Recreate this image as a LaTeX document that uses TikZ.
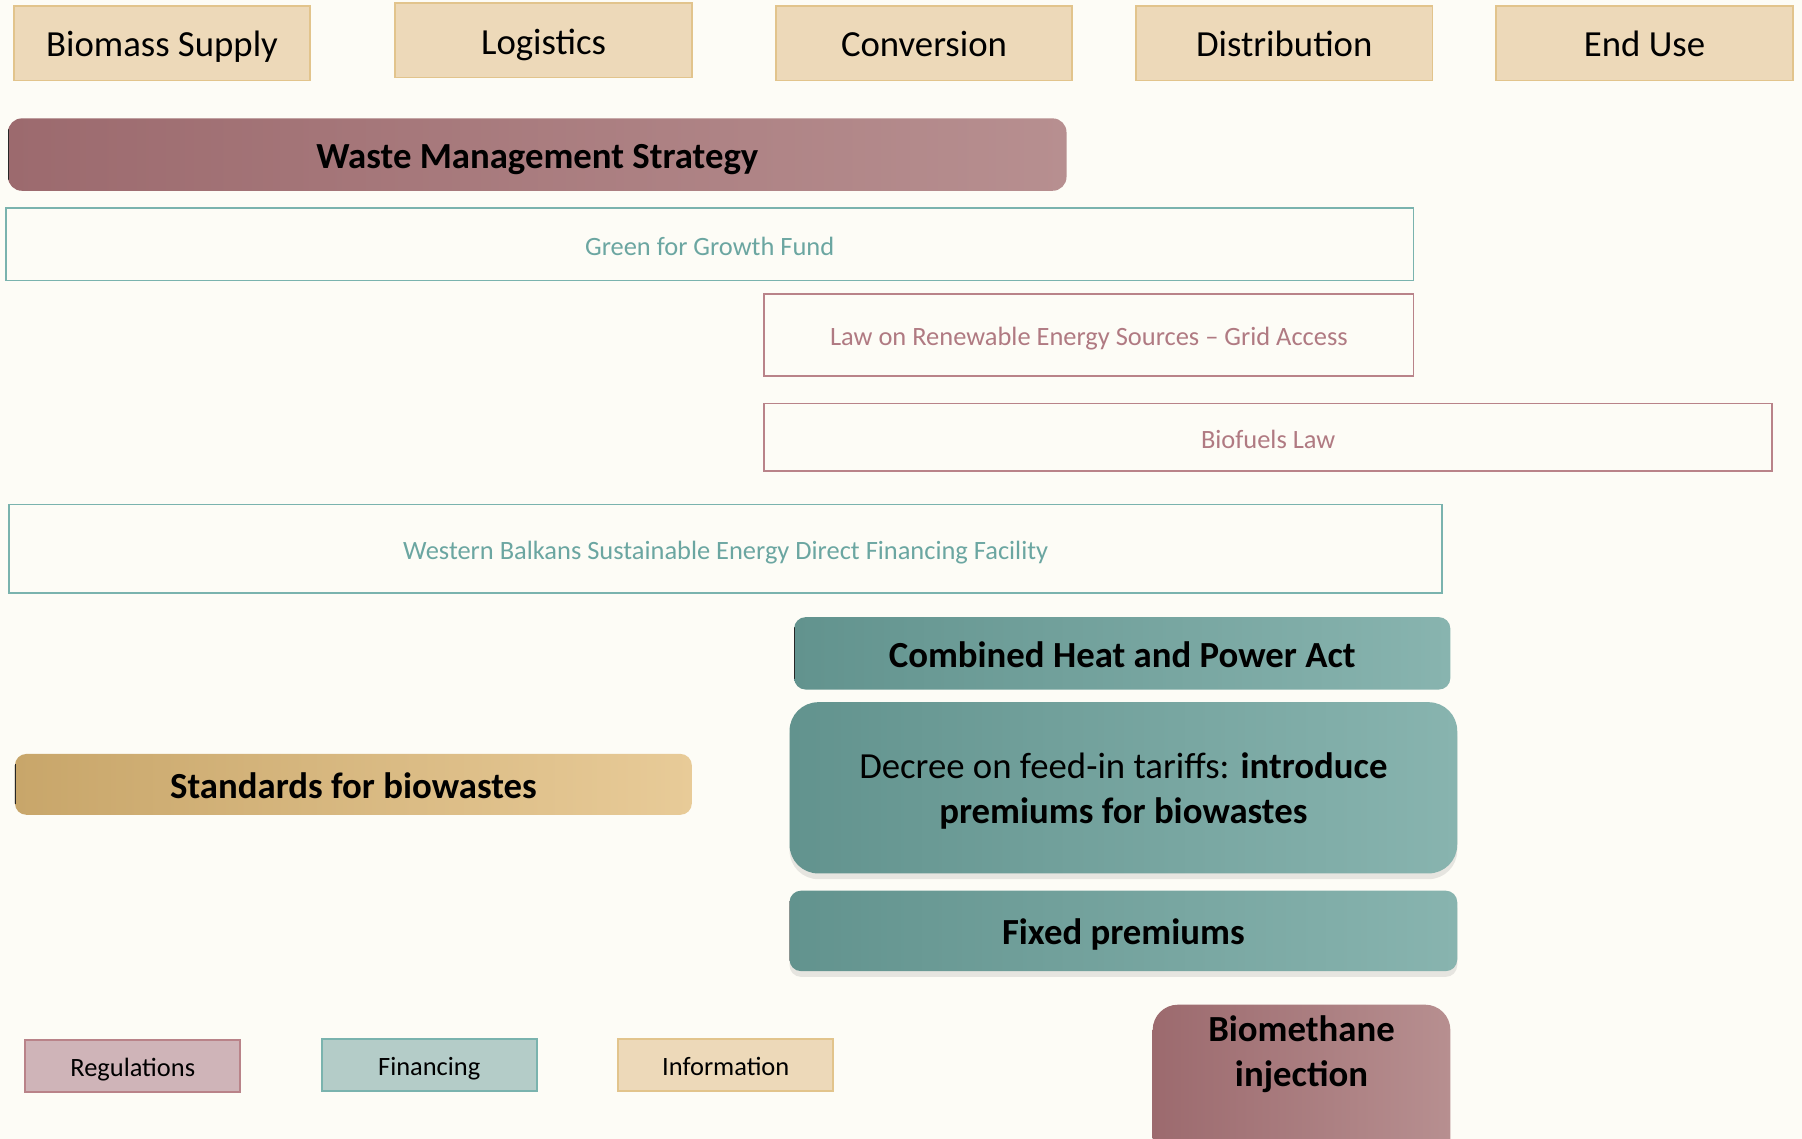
\documentclass[tikz,border=0pt]{standalone}
\usepackage{fontspec}
\usepackage{xcolor}
\usetikzlibrary{shadows}
\setmainfont{Carlito}
\definecolor{bgcream}{HTML}{FDFCF6}
\definecolor{infofill}{HTML}{EDD9B9}
\definecolor{infoline}{HTML}{E2C48C}
\definecolor{regline}{HTML}{B98389}
\definecolor{regtext}{HTML}{B07A82}
\definecolor{finline}{HTML}{7AB3AE}
\definecolor{fintext}{HTML}{6BA6A1}
\definecolor{regdark}{HTML}{9C6A6E}
\definecolor{reglight}{HTML}{B78F90}
\definecolor{findark}{HTML}{62938E}
\definecolor{finlight}{HTML}{88B4AF}
\definecolor{infodark}{HTML}{C8A66A}
\definecolor{infolight}{HTML}{E8CB98}
\definecolor{keyreg}{HTML}{CFB4B8}
\definecolor{keyfin}{HTML}{B4CCC8}

\begin{document}
\begin{tikzpicture}[x=1pt, y=-1pt,
    bigline/.style={text height=27pt, text depth=3pt},
    smallline/.style={text height=21pt, text depth=2pt},
    stage/.style={rectangle, draw=infoline, fill=infofill, line width=1.5pt, inner sep=0pt,
        minimum width=258pt, minimum height=65pt, font=\fontsize{32}{38}\selectfont, bigline},
    strip/.style={rectangle, fill=bgcream, line width=1.5pt, inner sep=0pt,
        font=\fontsize{23}{28}\selectfont, smallline},
    bar/.style={rectangle, rounded corners=10pt, inner sep=0pt,
        font=\bfseries\fontsize{32}{39}\selectfont, align=center},
    edge/.style={path picture={\draw[black!85, line width=1.5pt]
        ([yshift=-9pt]path picture bounding box.north west) --
        ([yshift=9pt]path picture bounding box.south west);}},
    regbar/.style={bar, left color=regdark, right color=reglight},
    finbar/.style={bar, left color=findark, right color=finlight},
    infobar/.style={bar, left color=infodark, right color=infolight},
    key/.style={rectangle, line width=1.5pt, inner sep=0pt, minimum width=187pt,
        minimum height=45pt, font=\fontsize{23}{28}\selectfont, smallline}]

    % Background
    \fill[bgcream] (0,0) rectangle (1568,991);
    \useasboundingbox (0,0) rectangle (1568,991);
    \clip (0,0) rectangle (1568,991);

    % Stage headers
    \foreach \x/\y/\name/\txt in {141/37.5/supply/Biomass Supply, 473/35/logist/Logistics,
        804/37.5/convers/Conversion, 1117.5/37.5/distrib/Distribution, 1431/37.5/enduse/End Use}
        \node[stage] (\name) at (\x,\y) {\txt};

    % Policy strips
    \node[regbar, edge, bigline, minimum width=921pt, minimum height=63pt, rounded corners=12pt] (waste)
        at (467.5,134.5) {Waste Management Strategy};
    \node[strip, draw=finline, text=fintext, minimum width=1225pt, minimum height=63pt] (green)
        at (617.5,212.5) {Green for Growth Fund};
    \node[strip, draw=regline, text=regtext, minimum width=565pt, minimum height=71pt] (resgrid)
        at (947.5,291.5) {Law on Renewable Energy Sources \textendash{} Grid Access};
    \node[strip, draw=regline, text=regtext, minimum width=877pt, minimum height=59pt] (biofuel)
        at (1103.5,380.5) {Biofuels Law};
    \node[strip, draw=finline, text=fintext, minimum width=1247pt, minimum height=77pt] (wbsedff)
        at (631.5,477.5) {Western Balkans Sustainable Energy Direct Financing Facility};

    % Financing bars
    \node[finbar, edge, bigline, minimum width=571pt, minimum height=63pt] (chp)
        at (976.5,568.5) {Combined Heat and Power Act};
    \node[finbar, minimum width=581pt, minimum height=149pt, rounded corners=25pt,
        font=\fontsize{32}{39}\selectfont, text depth=0pt,
        drop shadow={shadow xshift=0pt, shadow yshift=-5pt, opacity=0.18}] (decree)
        at (977.5,685.5) {Decree on feed-in tariffs: \textbf{introduce}\\\textbf{premiums for biowastes}};
    \node[finbar, edge, bigline, minimum width=581pt, minimum height=70pt,
        drop shadow={shadow xshift=0pt, shadow yshift=-5pt, opacity=0.18}] (fixed)
        at (977.5,810) {Fixed premiums};

    % Information and regulation bars
    \node[infobar, edge, bigline, minimum width=589pt, minimum height=53pt] (standard)
        at (307.5,682.5) {Standards for biowastes};
    \node[regbar, minimum width=259pt, rounded corners=22pt, anchor=north, inner ysep=10pt,
        text depth=62pt] (biometh)
        at (1132.5,874) {Biomethane\\injection};

    % Legend
    \node[key, draw=regline, fill=keyreg] (keyreg) at (115.5,927.5) {Regulations};
    \node[key, draw=finline, fill=keyfin] (keyfin) at (373.5,926.5) {Financing};
    \node[key, draw=infoline, fill=infofill] (keyinfo) at (631.5,926.5) {Information};
\end{tikzpicture}
\end{document}
